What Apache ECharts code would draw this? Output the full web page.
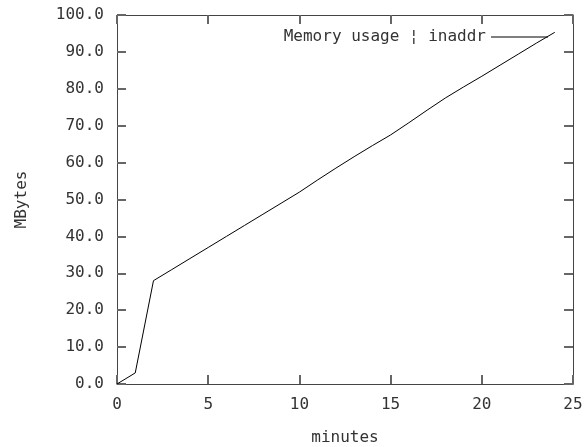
<!DOCTYPE html>
<html>
<head>
<meta charset="utf-8">
<title>Memory usage</title>
<script src="https://cdn.jsdelivr.net/npm/echarts@6/dist/echarts.min.js"></script>
<style>
  html, body { margin: 0; padding: 0; background: #fff; }
  #chart { width: 586px; height: 447px; }
</style>
</head>
<body>
<div id="chart"></div>
<script>
// minutes since start
var minutes = [0, 1, 2, 3, 4, 5, 6, 7, 8, 9, 10, 11, 12, 13, 14, 15, 16, 17, 18, 19, 20, 21, 22, 23, 24];
// memory usage in MBytes
var mbytes = [0, 3, 28, 31, 34, 37, 40, 43, 46, 49, 52, 55.3, 58.5, 61.6, 64.6, 67.5, 70.8, 74.2, 77.5, 80.5, 83.4, 86.4, 89.4, 92.4, 95.3];
var seriesName = "Memory usage \u00a6 inaddr";

var FONT = "DejaVu Sans Mono";
var TXT = "#333";

window.onload = function () {
  var chart = echarts.init(document.getElementById("chart"));

  var points = minutes.map(function (m, i) { return [m, mbytes[i]]; });

  // frame axes, gnuplot style: ticks pointing inward on all four sides
  function frameX(pos, showLabel) {
    var a = {
      type: "value",
      position: pos,
      min: 0, max: 25, interval: 5,
      splitLine: { show: false },
      axisLine: { show: true, lineStyle: { color: "#444" } },
      axisTick: { show: true, inside: true, length: 9, lineStyle: { color: "#666", width: 2 } },
      axisLabel: {
        show: showLabel, margin: 13,
        color: TXT, fontFamily: FONT, fontSize: 16
      }
    };
    if (!showLabel) a.axisLine.onZero = false;
    return a;
  }
  function frameY(pos, showLabel) {
    var a = {
      type: "value",
      position: pos,
      min: 0, max: 100, interval: 10,
      splitLine: { show: false },
      axisLine: { show: true, lineStyle: { color: "#444" } },
      axisTick: { show: true, inside: true, length: 9, lineStyle: { color: "#666", width: 2 } },
      axisLabel: {
        show: showLabel, margin: 13,
        color: TXT, fontFamily: FONT, fontSize: 16,
        formatter: function (v) { return v.toFixed(1); }
      }
    };
    if (!showLabel) a.axisLine.onZero = false;
    return a;
  }

  var xBottom = frameX("bottom", true);
  xBottom.name = "minutes";
  xBottom.nameLocation = "middle";
  xBottom.nameGap = 46;
  xBottom.nameTextStyle = { color: TXT, fontFamily: FONT, fontSize: 16 };

  var yLeft = frameY("left", true);
  yLeft.name = "MBytes";
  yLeft.nameLocation = "middle";
  yLeft.nameGap = 87;
  yLeft.nameTextStyle = { color: TXT, fontFamily: FONT, fontSize: 16 };

  var option = {
    backgroundColor: "#fff",
    animation: false,
    grid: {
      left: 117, right: 13, top: 15, bottom: 63,
      containLabel: false, outerBoundsMode: "none"
    },
    legend: {
      right: 33,
      top: 24,
      align: "right",
      itemWidth: 57,
      itemHeight: 14,
      itemGap: 0,
      textStyle: { color: TXT, fontFamily: FONT, fontSize: 16 },
      data: [{ name: seriesName, icon: "path://M0,7L57,7L57,8L0,8Z" }]
    },
    xAxis: [xBottom, frameX("top", false)],
    yAxis: [yLeft, frameY("right", false)],
    series: [
      {
        name: seriesName,
        type: "line",
        xAxisIndex: 0,
        yAxisIndex: 0,
        data: points,
        showSymbol: false,
        symbol: "none",
        lineStyle: { color: "#000", width: 1 },
        itemStyle: { color: "#000" }
      }
    ]
  };
  chart.setOption(option);
};
</script>
</body>
</html>
